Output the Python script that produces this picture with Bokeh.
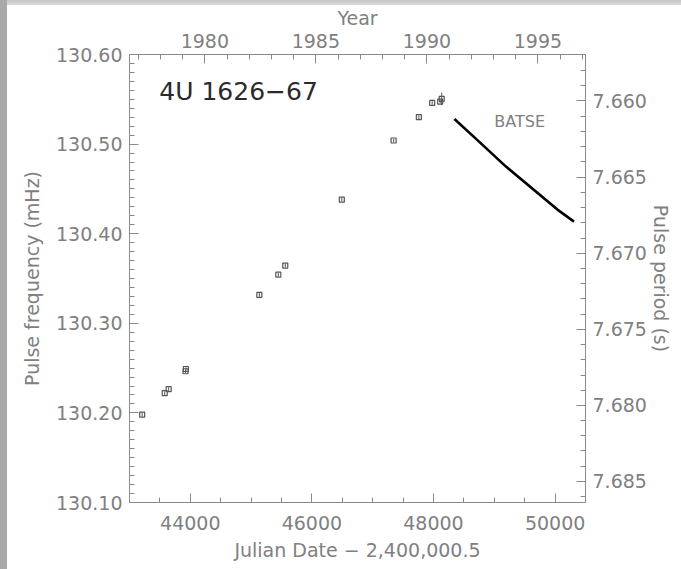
from bokeh.plotting import figure
from bokeh.models import (Range1d, LinearAxis, FixedTicker, PrintfTickFormatter,
                          CustomJSTickFormatter, Label, ColumnDataSource)
from bokeh.embed import file_html
from bokeh.resources import INLINE

# ---- data ----
mjd = [43209, 43579, 43644, 43922, 43928, 45136, 45448, 45562, 46492,
       47344, 47759, 47978, 48110, 48135]
freq = [130.198, 130.222, 130.2265, 130.2465, 130.249, 130.3317, 130.3543,
        130.3644, 130.438, 130.504, 130.530, 130.546, 130.5475, 130.5505]
ferr = [0.002, 0.002, 0.002, 0.002, 0.002, 0.002, 0.002, 0.002, 0.002,
        0.002, 0.002, 0.002, 0.002, 0.007]

batse_mjd = [48344, 48700, 49192, 50038, 50311]
batse_freq = [130.5281, 130.5058, 130.4749, 130.4269, 130.4135]

x_major = [44000, 46000, 48000, 50000]
y_major = [130.10, 130.20, 130.30, 130.40, 130.50, 130.60]
year_major = [1980, 1985, 1990, 1995]
period_major = [7.660, 7.665, 7.670, 7.675, 7.680, 7.685]

X0, X1 = 43000, 50500
Y0, Y1 = 130.10, 130.60

def mjd_to_year(m):
    return 1980.0 + (m - 44239.0) / 365.25

TXT = "#808080"
AX = "#8a8a8a"
FONT = "DejaVu Sans"

p = figure(width=681, height=569, output_backend="svg", toolbar_location=None,
           x_range=Range1d(X0, X1), y_range=Range1d(Y0, Y1),
           x_axis_location=None, y_axis_location=None,
           min_border_left=129, min_border_right=96, min_border_top=54,
           min_border_bottom=67)
p.grid.visible = False
p.outline_line_color = None
p.background_fill_color = "white"
p.border_fill_alpha = 0.0
p.styles = {
    "background": "linear-gradient(to right, #a9a9a9 0px, #a9a9a9 7px, transparent 7px),"
                  " linear-gradient(to bottom, #c4c4c4 0px, #dcdcdc 5px, white 5px)"
}

p.extra_x_ranges = {"year": Range1d(mjd_to_year(X0), mjd_to_year(X1))}

def style(ax, label):
    ax.axis_label = label
    ax.axis_line_color = AX
    ax.major_tick_line_color = AX
    ax.minor_tick_line_color = AX
    ax.major_tick_in = 9
    ax.major_tick_out = 0
    ax.minor_tick_in = 5
    ax.minor_tick_out = 0
    ax.major_label_text_font = FONT
    ax.major_label_text_font_size = "19px"
    ax.major_label_text_color = TXT
    ax.axis_label_text_font = FONT
    ax.axis_label_text_font_size = "19px"
    ax.axis_label_text_font_style = "normal"
    ax.axis_label_text_color = TXT

bottom = LinearAxis()
bottom.ticker = FixedTicker(ticks=x_major,
                            minor_ticks=list(range(X0, X1 + 1, 500)))
style(bottom, "Julian Date \u2212 2,400,000.5")
bottom.major_label_standoff = 13
bottom.axis_label_standoff = 6
p.add_layout(bottom, "below")

top = LinearAxis(x_range_name="year")
top.ticker = FixedTicker(ticks=year_major, minor_ticks=list(range(1977, 1998)))
style(top, "Year")
top.major_label_standoff = 7
top.axis_label_standoff = 2
p.add_layout(top, "above")

left = LinearAxis()
left.ticker = FixedTicker(ticks=y_major,
                          minor_ticks=[round(130.10 + 0.01 * i, 2) for i in range(51)])
left.formatter = PrintfTickFormatter(format="%.2f")
style(left, "Pulse frequency (mHz)")
left.major_label_standoff = 7
left.axis_label_standoff = 10
p.add_layout(left, "left")

period_minor = [round(7.656 + 0.001 * i, 3) for i in range(31)]
right = LinearAxis()
right.ticker = FixedTicker(ticks=[1000.0 / P for P in period_major],
                           minor_ticks=[1000.0 / P for P in period_minor])
right.formatter = CustomJSTickFormatter(code="return (1000.0/tick).toFixed(3);")
style(right, "Pulse period (s)")
right.major_label_standoff = 7
right.axis_label_standoff = 0
p.add_layout(right, "right")

# ---- data marks ----
src = ColumnDataSource(dict(x=mjd, y=freq,
                            lo=[f - e for f, e in zip(freq, ferr)],
                            hi=[f + e for f, e in zip(freq, ferr)]))
p.segment(x0="x", y0="lo", x1="x", y1="hi", source=src, line_color="#555555",
          line_width=1)
p.scatter(x="x", y="y", source=src, marker="square", size=5,
          fill_color=None, line_color="#555555", line_width=1.2)

p.line(batse_mjd, batse_freq, line_color="black", line_width=2.6)

p.add_layout(Label(x=43490, y=130.5586, text="4U 1626\u221267",
                   text_font=FONT, text_font_size="25px", text_color="#2a2a2a",
                   text_baseline="middle", text_align="left"))
p.add_layout(Label(x=49000, y=130.525, text="BATSE",
                   text_font=FONT, text_font_size="16px", text_color=TXT,
                   text_baseline="middle", text_align="left"))

open("out.html", "w").write(file_html(p, INLINE))
